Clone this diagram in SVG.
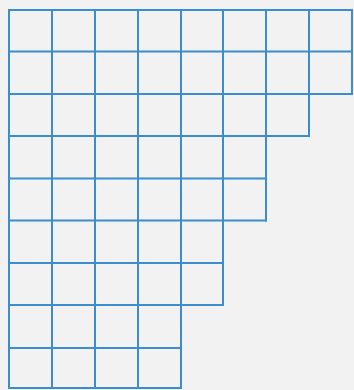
<svg xmlns="http://www.w3.org/2000/svg" width="354" height="390" viewBox="0 0 354 390">
<style>
.g{stroke:#3b8dcf;stroke-width:2;fill:none;stroke-linecap:square}
</style>
<rect x="0" y="0" width="354" height="390" fill="#f3f2f3"/>
<g id="grid" class="g">
<path d="M9 10H352 M9 51.5H352 M9 94H352 M9 136H309 M9 178.5H266 M9 220.5H266 M9 263H223 M9 305H223 M9 348H181 M9 388H181"/>
<path d="M9 10V388 M52 10V388 M95 10V388 M138 10V388 M181 10V388 M223 10V305 M266 10V220.5 M309 10V136 M352 10V94"/>
</g>
</svg>
